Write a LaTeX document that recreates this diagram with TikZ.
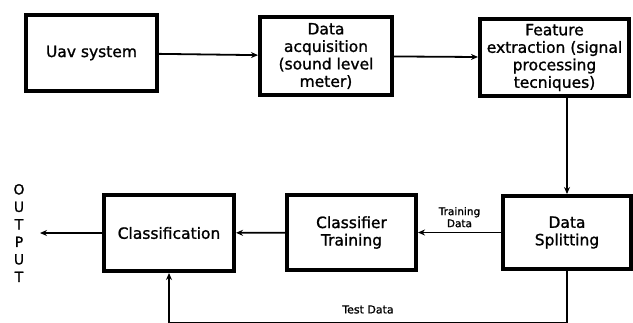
\documentclass[tikz,border=0pt]{standalone}
\usepackage{fontspec}
\setmainfont[FakeBold=1.2]{DejaVu Sans}
\usepackage{tikz}
\usetikzlibrary{arrows.meta}

\begin{document}
\begin{tikzpicture}[x=1pt,y=1pt,->,>={Stealth[length=7pt,width=6pt]},line width=1.8pt]
\tikzstyle{every box}=[draw=black,line width=4pt,fill=white,align=center,font=\fontsize{15.5}{17.5}\selectfont]
\useasboundingbox (0,0) rectangle (633,-322);

\node[every box,minimum width=131pt,minimum height=76pt] (Uav)   at (91.5,-53)   {Uav system};
\node[every box,minimum width=132pt,minimum height=78pt] (Acq)   at (326,-56)    {Data\\acquisition\\(sound level\\meter)};
\node[every box,minimum width=149pt,minimum height=77pt] (Feat)  at (554.5,-57.5) {Feature\\extraction (signal\\processing\\tecniques)};
\node[every box,minimum width=130pt,minimum height=76pt] (Class) at (169,-233)   {Classification};
\node[every box,minimum width=129pt,minimum height=75pt] (Train) at (351.5,-232.5) {Classifier\\Training};
\node[every box,minimum width=128pt,minimum height=73pt] (Split) at (567,-232.5) {Data\\Splitting};
\node[align=center,font=\fontsize{14}{17.5}\selectfont] (Out) at (19,-233) {O\\U\\T\\P\\U\\T};
\coordinate (OutEnd) at (40,-233);
\coordinate (Bot) at (0,-322.8);

\path (Uav)   edge (Acq)
      (Acq)   edge (Feat)
      (Feat.south -| Split) edge (Split)
      (Split) edge node[above,font=\fontsize{10.5}{12}\selectfont,align=center,yshift=1pt] {Training\\Data} (Train)
      (Train) edge (Class)
      (Class) edge (OutEnd);
\draw (Split.south) -- (Split.south |- Bot) -- node[above,font=\fontsize{11}{12}\selectfont,yshift=5pt] {Test Data} (Class.south |- Bot) -- (Class.south);
\end{tikzpicture}
\end{document}
